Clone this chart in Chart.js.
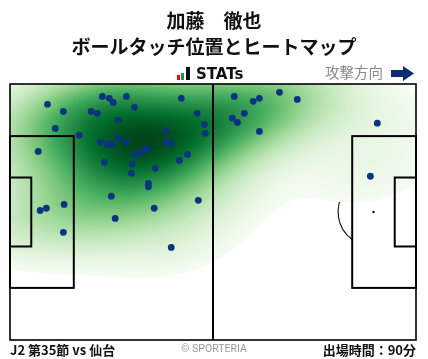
<!DOCTYPE html>
<html><head><meta charset="utf-8">
<script src="https://cdn.jsdelivr.net/npm/chart.js@4.4.1/dist/chart.umd.min.js"></script>
<style>
html,body{margin:0;padding:0;background:#fff;width:428px;height:359px;overflow:hidden;}
#wrap{position:relative;width:428px;height:359px;font-family:"Noto Sans CJK JP","Noto Sans",sans-serif;}
#c{position:absolute;left:0;top:0;}
.t{position:absolute;white-space:nowrap;}
</style></head><body>
<div id="wrap">
<canvas id="c" width="428" height="359"></canvas>
<div class="t" style="left:0;width:428px;top:8px;text-align:center;font-weight:700;font-size:19px;line-height:24px;color:#111">加藤　徹也</div>
<div class="t" style="left:0;width:428px;top:34px;text-align:center;font-weight:700;font-size:19px;line-height:24px;color:#111">ボールタッチ位置とヒートマップ</div>
<div class="t" style="left:177px;top:75px;width:3px;height:5px;background:#e60012"></div>
<div class="t" style="left:181px;top:73px;width:3px;height:7px;background:#1a9a3a"></div>
<div class="t" style="left:186px;top:67px;width:4px;height:13px;background:#111"></div>
<div class="t" style="left:196px;top:64px;font-family:'DejaVu Sans';font-weight:700;font-size:15px;line-height:20px;color:#111">STATs</div>
<div class="t" style="left:325px;top:62px;font-size:14.5px;line-height:20px;color:#888">攻撃方向</div>
<svg class="t" style="left:390px;top:65px" width="26" height="17"><polygon points="1,5 13,5 13,1 24,8.5 13,16 13,12 1,12" fill="#0d2b6e"/></svg>
<div class="t" style="left:10px;top:341px;font-weight:700;font-size:13px;line-height:17px;color:#111">J2 第35節 vs 仙台</div>
<div class="t" style="left:0;width:428px;top:342px;text-align:center;font-size:10.5px;line-height:14px;color:#999;font-family:'Roboto','Noto Sans',sans-serif">© SPORTERIA</div>
<div class="t" style="right:12px;top:341px;font-weight:700;font-size:13px;line-height:17px;color:#111">出場時間：90分</div>
</div>
<script>
// Ball touch positions (metres; x: 0..105 attack to the right, y: 0..68 from top touchline)
const touchX = [9.7,13.8,11.7,17.9,7.3,23.9,25.7,26.7,30.1,32.2,21.0,22.6,28.0,44.3,48.4,50.3,50.5,40.4,40.4,41.7,23.4,25.2,26.2,28.0,30.1,32.4,34.2,35.3,45.9,43.8,24.4,31.6,31.4,37.6,35.8,35.8,26.2,48.7,37.3,14.0,9.4,7.8,13.8,27.2,41.7,58.0,62.9,64.5,69.7,74.3,60.6,57.5,58.8,64.5,95.0,93.2];
const touchY = [5.4,7.3,11.8,13.6,17.9,3.3,3.8,4.9,3.3,6.2,7.3,7.8,9.6,3.8,7.8,10.7,13.1,12.6,15.5,15.8,15.5,16.0,16.0,14.4,15.5,18.7,18.1,17.1,18.7,20.3,20.8,21.3,23.7,22.4,26.4,27.3,29.8,30.9,33.0,32.0,33.0,33.6,39.4,35.7,43.4,3.3,4.6,3.8,2.2,4.1,7.8,9.1,10.2,12.6,10.4,24.5];
const pitchLength = 105, pitchWidth = 68;

const greens = [[247,252,245],[229,245,224],[199,233,192],[161,217,155],[116,196,118],[65,171,93],[35,139,69],[0,109,44],[0,68,27]];
function greenAt(t){
  t = Math.max(0, Math.min(1, t)) * (greens.length - 1);
  const i = Math.min(greens.length - 2, Math.floor(t)), f = t - i;
  const a = greens[i], b = greens[i+1];
  return [a[0]+(b[0]-a[0])*f, a[1]+(b[1]-a[1])*f, a[2]+(b[2]-a[2])*f];
}

const BW = 1.35, THRESH = 0.03, GAMMA = 0.75;
let heatCache = null;
function buildHeat(chart){
  const {chartArea:a, scales:{x, y}} = chart;
  const n = touchX.length;
  let mx=0,my=0; for(let i=0;i<n;i++){mx+=touchX[i];my+=touchY[i];} mx/=n; my/=n;
  let sxx=0,syy=0,sxy=0;
  for(let i=0;i<n;i++){const dx=touchX[i]-mx, dy=touchY[i]-my; sxx+=dx*dx; syy+=dy*dy; sxy+=dx*dy;}
  sxx/=(n-1); syy/=(n-1); sxy/=(n-1);
  const f2 = Math.pow(n, -2/6) * BW * BW;
  const cxx=sxx*f2, cyy=syy*f2, cxy=sxy*f2;
  const det = cxx*cyy - cxy*cxy;
  const ixx = cyy/det, iyy = cxx/det, ixy = -cxy/det;
  const dens = (px, py) => {
    let s = 0;
    for(let i=0;i<n;i++){const dx=px-touchX[i], dy=py-touchY[i]; s+=Math.exp(-0.5*(ixx*dx*dx+2*ixy*dx*dy+iyy*dy*dy));}
    return s;
  };
  const bx = Math.sqrt(cxx), by = Math.sqrt(cyy);
  let x0=Math.min(...touchX)-3*bx, x1=Math.max(...touchX)+3*bx, y0=Math.min(...touchY)-3*by, y1=Math.max(...touchY)+3*by;
  const G=200, vals=[];
  for(let j=0;j<G;j++) for(let i=0;i<G;i++) vals.push(dens(x0+(x1-x0)*i/(G-1), y0+(y1-y0)*j/(G-1)));
  const sorted = vals.slice().sort((p,q)=>q-p);
  const total = sorted.reduce((p,q)=>p+q,0);
  const cumA = new Float64Array(sorted.length); let cum=0;
  for(let k=0;k<sorted.length;k++){cum+=sorted[k]; cumA[k]=cum/total;}
  const isoProp = d => {
    let lo=0, hi=sorted.length-1;
    if(d >= sorted[0]) return 1;
    while(lo<hi){const mid=(lo+hi+1)>>1; if(sorted[mid]>=d) lo=mid; else hi=mid-1;}
    return 1 - cumA[lo];
  };
  const W = Math.round(a.right - a.left), H = Math.round(a.bottom - a.top);
  const cv = document.createElement('canvas'); cv.width=W; cv.height=H;
  const cx = cv.getContext('2d'); const img = cx.createImageData(W,H);
  for(let j=0;j<H;j++){
    const vy = y.getValueForPixel(a.top + j + 0.5);
    for(let i=0;i<W;i++){
      const vx = x.getValueForPixel(a.left + i + 0.5);
      const q = isoProp(dens(vx, vy));
      const k = (j*W+i)*4;
      if(q >= THRESH){
        const c = greenAt(Math.pow((q-THRESH)/(1-THRESH), GAMMA));
        img.data[k]=c[0]; img.data[k+1]=c[1]; img.data[k+2]=c[2]; img.data[k+3]=255;
      } else img.data[k+3]=0;
    }
  }
  cx.putImageData(img,0,0);
  return cv;
}

const pitchPlugin = {
  id:'pitch',
  beforeDatasetsDraw(chart){
    const {ctx, chartArea:a, scales:{x, y}} = chart;
    const X = v => x.getPixelForValue(v), Y = v => y.getPixelForValue(v);
    ctx.save();
    ctx.fillStyle='#fff'; ctx.fillRect(a.left,a.top,a.right-a.left,a.bottom-a.top);
    const rx = X(9.15)-X(0), ry = Y(9.15)-Y(0);
    const ang = Math.acos(5.5/9.15);
    ctx.strokeStyle='#111'; ctx.lineWidth=1.1;
    ctx.beginPath(); ctx.ellipse(X(52.5),Y(34),rx,ry,0,0,Math.PI*2); ctx.stroke();
    ctx.beginPath(); ctx.ellipse(X(94),Y(34),rx,ry,0,Math.PI-ang,Math.PI+ang); ctx.stroke();
    ctx.beginPath(); ctx.ellipse(X(11),Y(34),rx,ry,0,-ang,ang); ctx.stroke();
    ctx.fillStyle='#111';
    [[11,34],[94,34],[52.5,34]].forEach(p=>{ctx.beginPath();ctx.arc(X(p[0]),Y(p[1]),1.2,0,Math.PI*2);ctx.fill();});
    if(!heatCache) heatCache = buildHeat(chart);
    ctx.drawImage(heatCache, a.left, a.top);
    ctx.strokeStyle='#000'; ctx.lineWidth=2;
    const rect=(x0,y0,x1,y1)=>{ctx.strokeRect(X(x0),Y(y0),X(x1)-X(x0),Y(y1)-Y(y0));};
    rect(0,13.84,16.5,54.16); rect(88.5,13.84,105,54.16);
    rect(0,24.84,5.5,43.16); rect(99.5,24.84,105,43.16);
    ctx.beginPath(); ctx.moveTo(X(52.5),Y(0)); ctx.lineTo(X(52.5),Y(68)); ctx.stroke();
    ctx.lineWidth=1.6;
    ctx.strokeRect(X(0),Y(0),X(105)-X(0),Y(68)-Y(0));
    ctx.restore();
  }
};

new Chart(document.getElementById('c'), {
  type:'scatter',
  data:{datasets:[{data: touchX.map((v,i)=>({x:v, y:touchY[i]})), backgroundColor:'#0b3480', borderWidth:0, pointRadius:3.4, pointHoverRadius:3.4}]},
  options:{
    responsive:false, animation:false, devicePixelRatio:1,
    layout:{padding:{left:10,right:12,top:84,bottom:19}},
    plugins:{legend:{display:false},tooltip:{enabled:false},title:{display:false}},
    scales:{
      x:{type:'linear',min:0,max:pitchLength,display:false},
      y:{type:'linear',min:0,max:pitchWidth,reverse:true,display:false}
    }
  },
  plugins:[pitchPlugin]
});
</script>
</body></html>
